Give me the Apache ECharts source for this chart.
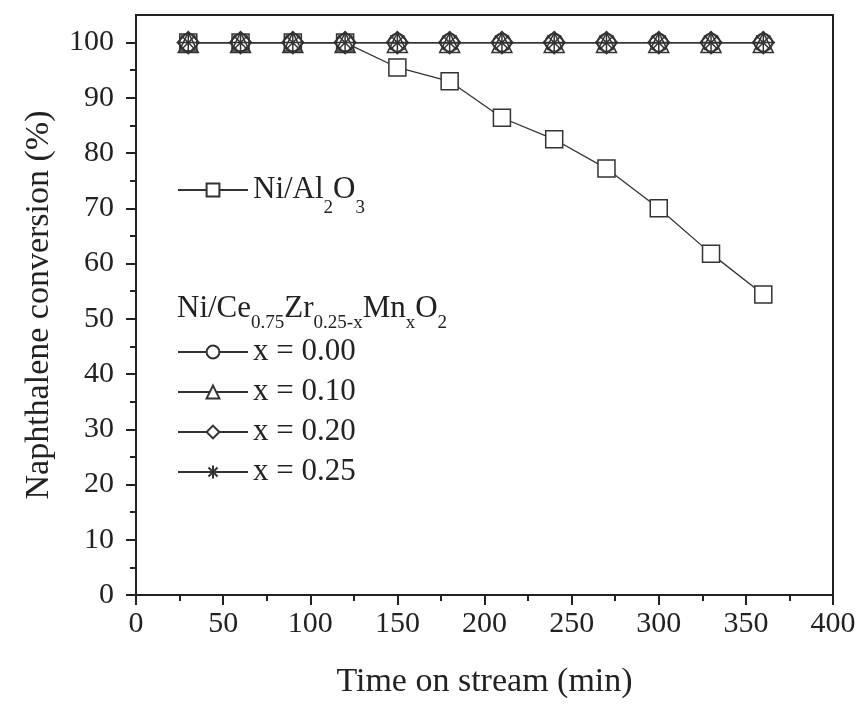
<!DOCTYPE html>
<html>
<head>
<meta charset="utf-8">
<script src="https://cdn.jsdelivr.net/npm/echarts@6/dist/echarts.min.js"></script>
<style>
  html, body { margin: 0; padding: 0; background: #fff; }
  #main { width: 863px; height: 706px; }
</style>
</head>
<body>
<div id="main"></div>
<script>
// time on stream (min)
const timeMin = [30, 60, 90, 120, 150, 180, 210, 240, 270, 300, 330, 360];
// naphthalene conversion (%)
const niAl2O3 = [100, 100, 100, 100, 95.5, 93.0, 86.4, 82.5, 77.2, 70.0, 61.8, 54.4];
const mn000 = [100, 100, 100, 100, 100, 100, 100, 100, 100, 100, 100, 100];
const mn010 = [100, 100, 100, 100, 100, 100, 100, 100, 100, 100, 100, 100];
const mn020 = [100, 100, 100, 100, 100, 100, 100, 100, 100, 100, 100, 100];
const mn025 = [100, 100, 100, 100, 100, 100, 100, 100, 100, 100, 100, 100];

const yMajorTicks = [0, 10, 20, 30, 40, 50, 60, 70, 80, 90, 100];
const yMinorTicks = [5, 15, 25, 35, 45, 55, 65, 75, 85, 95];

const seriesNames = ['Ni/Al2O3', 'x = 0.00', 'x = 0.10', 'x = 0.20', 'x = 0.25'];
const headingText = 'Ni/Ce{s|0.75}Zr{s|0.25-x}Mn{s|x}O{s|2}';

const FONT = '"Liberation Serif", "Times New Roman", serif';
const INK = '#222';
const asterisk = 'path://M0,-10L0,10M-10,0L10,0M-7.07,-7.07L7.07,7.07M-7.07,7.07L7.07,-7.07';

var chart = echarts.init(document.getElementById('main'));

function pairs(ys) {
  var out = [];
  for (var i = 0; i < timeMin.length; i++) out.push([timeMin[i], ys[i]]);
  return out;
}

function mkSeries(name, ys, symbol, size, fill) {
  return {
    name: name,
    type: 'line',
    data: pairs(ys),
    symbol: symbol,
    symbolSize: size,
    showSymbol: true,
    lineStyle: { color: '#333', width: 1.3 },
    itemStyle: { color: fill, borderColor: '#333', borderWidth: 1.5 },
    emphasis: { disabled: true },
  };
}

function subStyle(pad) {
  return { s: { fontSize: 19, fontFamily: FONT, color: INK, verticalAlign: 'top', padding: [pad, 0, 0, 0] } };
}

var option = {
  animation: false,
  grid: {
    left: 136, right: 30, top: 15, bottom: 111,
    show: true, borderColor: INK, borderWidth: 2,
  },
  xAxis: {
    type: 'value',
    min: 0, max: 400, interval: 50,
    name: 'Time on stream (min)',
    nameLocation: 'middle',
    nameGap: 70,
    nameTextStyle: { fontFamily: FONT, fontSize: 34, color: INK },
    axisLine: { lineStyle: { color: INK, width: 2 } },
    axisTick: { length: 10, lineStyle: { color: INK, width: 2 } },
    minorTick: { show: true, splitNumber: 2, length: 6, lineStyle: { color: INK, width: 2 } },
    axisLabel: { fontFamily: FONT, fontSize: 30, color: INK, margin: 14 },
    splitLine: { show: false },
  },
  yAxis: [
    {
      type: 'value',
      min: 0, max: 105,
      name: 'Naphthalene conversion (%)',
      nameLocation: 'middle',
      nameGap: 80,
      nameTextStyle: { fontFamily: FONT, fontSize: 34, color: INK },
      axisLine: { show: true, lineStyle: { color: INK, width: 2 } },
      axisTick: { show: true, length: 10, customValues: yMajorTicks, lineStyle: { color: INK, width: 2 } },
      axisLabel: { fontFamily: FONT, fontSize: 30, color: INK, margin: 22, customValues: yMajorTicks },
      splitLine: { show: false },
    },
    {
      type: 'value',
      min: 0, max: 105,
      position: 'left',
      axisLine: { show: false },
      axisTick: { show: true, length: 6, customValues: yMinorTicks, lineStyle: { color: INK, width: 2 } },
      axisLabel: { show: false },
      splitLine: { show: false },
    },
  ],
  legend: [
    {
      data: [seriesNames[0]],
      left: 177, top: 173, padding: 0,
      itemWidth: 70, itemHeight: 16,
      selectedMode: false,
      itemStyle: { color: '#fff' },
      formatter: function () { return 'Ni/Al{s|2}O{s|3}'; },
      textStyle: { fontFamily: FONT, fontSize: 31, color: INK, lineHeight: 34, rich: subStyle(26) },
    },
    {
      data: seriesNames.slice(1),
      orient: 'vertical',
      left: 177, top: 335, padding: 0,
      itemGap: 6,
      itemWidth: 70, itemHeight: 16,
      selectedMode: false,
      itemStyle: { color: '#fff' },
      textStyle: { fontFamily: FONT, fontSize: 31, color: INK, lineHeight: 34 },
    },
  ],
  graphic: [
    {
      type: 'text',
      left: 177, top: 292,
      style: {
        text: headingText,
        font: '31px ' + FONT,
        fill: INK,
        lineHeight: 34,
        rich: subStyle(22),
      },
    },
  ],
  series: [
    mkSeries(seriesNames[0], niAl2O3, 'rect', 17, '#fff'),
    mkSeries(seriesNames[1], mn000, 'circle', 18, 'transparent'),
    mkSeries(seriesNames[2], mn010, 'triangle', 20, 'transparent'),
    mkSeries(seriesNames[3], mn020, 'diamond', 22, 'transparent'),
    mkSeries(seriesNames[4], mn025, asterisk, 20, 'transparent'),
  ],
};

chart.setOption(option);
window.addEventListener('resize', chart.resize);
</script>
</body>
</html>
